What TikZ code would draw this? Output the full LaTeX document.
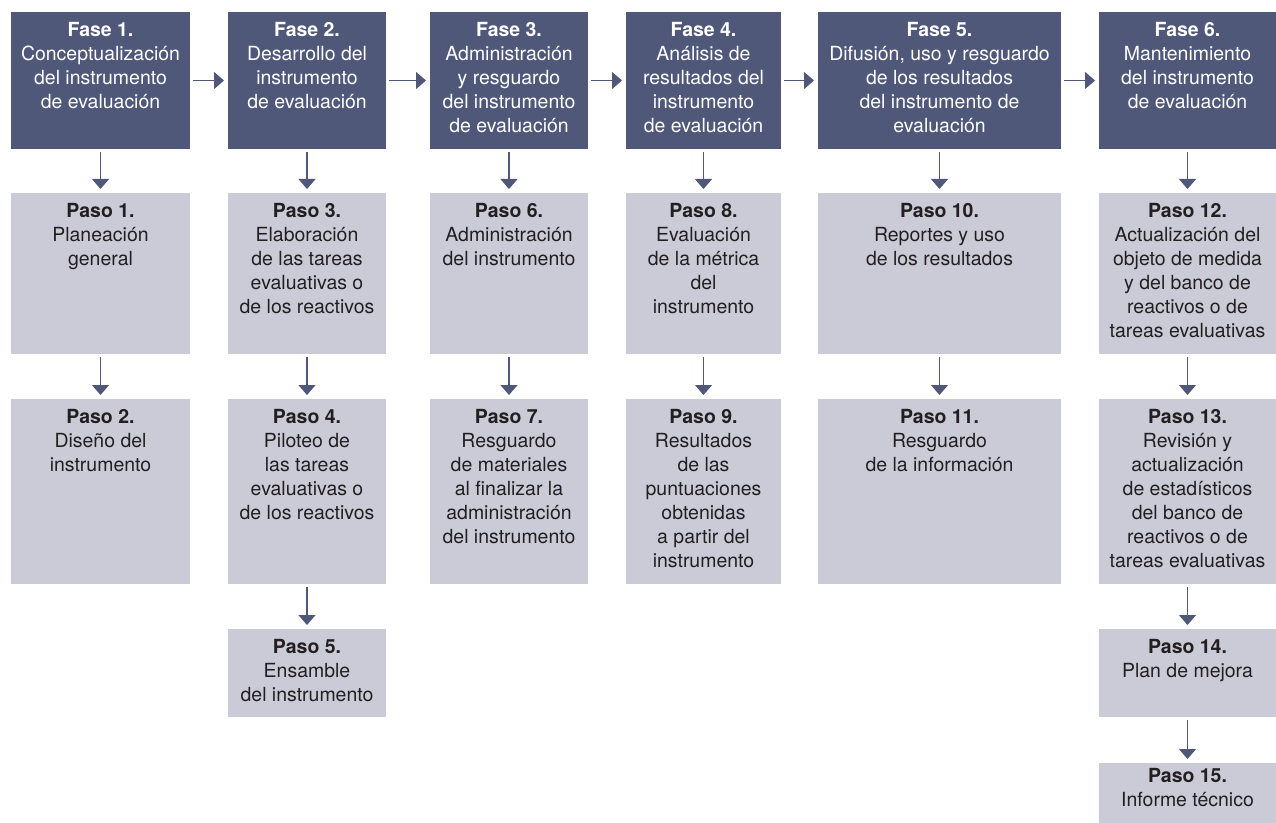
\documentclass[tikz,border=0pt]{standalone}
\usepackage{fontspec}
\setmainfont{TeX Gyre Heros}
\usetikzlibrary{arrows.meta,fit}
\definecolor{dark}{HTML}{4F5878}
\definecolor{light}{HTML}{CBCBD7}
\definecolor{ink}{HTML}{231F20}
\newcommand\firstline{\rule{0pt}{14pt}}
\begin{document}
\begin{tikzpicture}[x=0.75pt,y=-0.75pt,
  fase/.style={fill=dark, draw=none, inner sep=0pt, outer sep=0pt},
  paso/.style={fill=light, draw=none, inner sep=0pt, outer sep=0pt},
  ftxt/.style={text=white, align=center, inner sep=0pt, anchor=north, font=\fontsize{14.6}{18}\selectfont},
  ptxt/.style={text=ink, align=center, inner sep=0pt, anchor=north, font=\fontsize{14.6}{18}\selectfont},
  arr/.style={draw=dark, line width=1pt, -{Triangle[width=12.75pt,length=7.5pt]}, shorten <=2.25pt, shorten >=3pt}]
\useasboundingbox (0,0) rectangle (1276,823);

% Fase boxes
\node[fase, fit={(11,12)(190,149)}] (f1) {};
\node[fase, fit={(228,12)(386,149)}] (f2) {};
\node[fase, fit={(430,12)(588,149)}] (f3) {};
\node[fase, fit={(626,12)(781,149)}] (f4) {};
\node[fase, fit={(818,12)(1061,149)}] (f5) {};
\node[fase, fit={(1099,12)(1276,149)}] (f6) {};

\node[ftxt] (f1t) at ([yshift=-4pt]f1.north) {\firstline\textbf{Fase 1.}\\Conceptualización\\del instrumento\\de evaluación};
\node[ftxt] (f2t) at ([yshift=-4pt]f2.north) {\firstline\textbf{Fase 2.}\\Desarrollo del\\instrumento\\de evaluación};
\node[ftxt] (f3t) at ([yshift=-4pt]f3.north) {\firstline\textbf{Fase 3.}\\Administración\\y resguardo\\del instrumento\\de evaluación};
\node[ftxt] (f4t) at ([yshift=-4pt]f4.north) {\firstline\textbf{Fase 4.}\\Análisis de\\resultados del\\instrumento\\de evaluación};
\node[ftxt] (f5t) at ([yshift=-4pt]f5.north) {\firstline\textbf{Fase 5.}\\Difusión, uso y resguardo\\de los resultados\\del instrumento de\\evaluación};
\node[ftxt] (f6t) at ([yshift=-4pt]f6.north) {\firstline\textbf{Fase 6.}\\Mantenimiento\\del instrumento\\de evaluación};

% Paso boxes
\node[paso, fit={(11,193)(190,354)}] (p1) {};
\node[paso, fit={(11,399)(190,584)}] (p2) {};
\node[paso, fit={(228,193)(386,354)}] (p3) {};
\node[paso, fit={(228,399)(386,584)}] (p4) {};
\node[paso, fit={(228,629)(386,717)}] (p5) {};
\node[paso, fit={(430,193)(588,354)}] (p6) {};
\node[paso, fit={(430,399)(588,584)}] (p7) {};
\node[paso, fit={(626,193)(781,354)}] (p8) {};
\node[paso, fit={(626,399)(781,584)}] (p9) {};
\node[paso, fit={(818,193)(1061,354)}] (p10) {};
\node[paso, fit={(818,399)(1061,584)}] (p11) {};
\node[paso, fit={(1099,193)(1276,354)}] (p12) {};
\node[paso, fit={(1099,399)(1276,584)}] (p13) {};
\node[paso, fit={(1099,629)(1276,717)}] (p14) {};
\node[paso, fit={(1099,763)(1276,823)}] (p15) {};

\node[ptxt] (p1t) at ([yshift=-4pt]p1.north) {\firstline\textbf{Paso 1.}\\Planeación\\general};
\node[ptxt] (p2t) at ([yshift=-4pt]p2.north) {\firstline\textbf{Paso 2.}\\Diseño del\\instrumento};
\node[ptxt] (p3t) at ([yshift=-4pt]p3.north) {\firstline\textbf{Paso 3.}\\Elaboración\\de las tareas\\evaluativas o\\de los reactivos};
\node[ptxt] (p4t) at ([yshift=-4pt]p4.north) {\firstline\textbf{Paso 4.}\\Piloteo de\\las tareas\\evaluativas o\\de los reactivos};
\node[ptxt] (p5t) at ([yshift=-4pt]p5.north) {\firstline\textbf{Paso 5.}\\Ensamble\\del instrumento};
\node[ptxt] (p6t) at ([yshift=-4pt]p6.north) {\firstline\textbf{Paso 6.}\\Administración\\del instrumento};
\node[ptxt] (p7t) at ([yshift=-4pt]p7.north) {\firstline\textbf{Paso 7.}\\Resguardo\\de materiales\\al finalizar la\\administración\\del instrumento};
\node[ptxt] (p8t) at ([yshift=-4pt]p8.north) {\firstline\textbf{Paso 8.}\\Evaluación\\de la métrica\\del\\instrumento};
\node[ptxt] (p9t) at ([yshift=-4pt]p9.north) {\firstline\textbf{Paso 9.}\\Resultados\\de las\\puntuaciones\\obtenidas\\a partir del\\instrumento};
\node[ptxt] (p10t) at ([yshift=-4pt]p10.north) {\firstline\textbf{Paso 10.}\\Reportes y uso\\de los resultados};
\node[ptxt] (p11t) at ([yshift=-4pt]p11.north) {\firstline\textbf{Paso 11.}\\Resguardo\\de la información};
\node[ptxt] (p12t) at ([yshift=-4pt]p12.north) {\firstline\textbf{Paso 12.}\\Actualización del\\objeto de medida\\y del banco de\\reactivos o de\\tareas evaluativas};
\node[ptxt] (p13t) at ([yshift=-4pt]p13.north) {\firstline\textbf{Paso 13.}\\Revisión y\\actualización\\de estadísticos\\del banco de\\reactivos o de\\tareas evaluativas};
\node[ptxt] (p14t) at ([yshift=-4pt]p14.north) {\firstline\textbf{Paso 14.}\\Plan de mejora};
\node[ptxt] (p15t) at ([yshift=-0.5pt]p15.north) {\firstline\textbf{Paso 15.}\\Informe técnico};

% Arrows between phases
\draw[arr] (f1) -- (f2);
\draw[arr] (f2) -- (f3);
\draw[arr] (f3) -- (f4);
\draw[arr] (f4) -- (f5);
\draw[arr] (f5) -- (f6);

% Arrows down
\draw[arr] (f1) -- (p1);
\draw[arr] (p1) -- (p2);
\draw[arr] (f2) -- (p3);
\draw[arr] (p3) -- (p4);
\draw[arr] (p4) -- (p5);
\draw[arr] (f3) -- (p6);
\draw[arr] (p6) -- (p7);
\draw[arr] (f4) -- (p8);
\draw[arr] (p8) -- (p9);
\draw[arr] (f5) -- (p10);
\draw[arr] (p10) -- (p11);
\draw[arr] (f6) -- (p12);
\draw[arr] (p12) -- (p13);
\draw[arr] (p13) -- (p14);
\draw[arr] (p14) -- (p15);
\end{tikzpicture}
\end{document}
